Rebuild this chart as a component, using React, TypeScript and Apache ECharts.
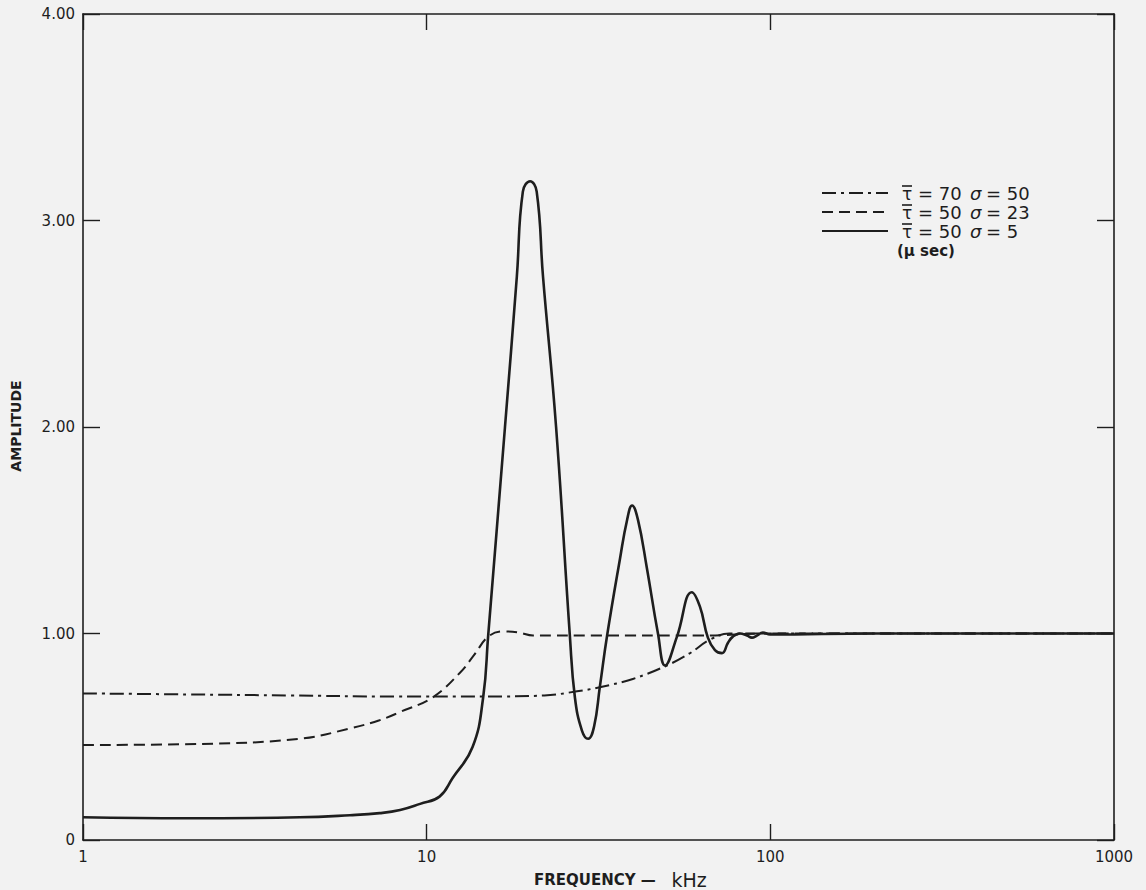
import React, { useEffect, useRef } from "react";
import * as echarts from "echarts";

// σ = 5 (solid)
const freqSolid = [1, 2, 4.27, 5.98, 7.3, 8.37, 9.57, 10.9, 11.9, 13.6, 14.6, 15.1, 16.9, 18.3, 19.05, 20.0, 20.9, 21.8, 23.8, 26.1, 27.0, 28.3, 29.5, 30.7, 31.9, 33.5, 36.5, 38.3, 39.6, 41.2, 43.7, 47.1, 49.4, 53.5, 59.1, 62.4, 65.8, 69.0, 72.3, 75.3, 77.8, 81.6, 85.5, 88.4, 91.4, 95.1, 99.8, 200, 1000];
const ampSolid = [0.11, 0.105, 0.11, 0.12, 0.13, 0.145, 0.175, 0.21, 0.30, 0.45, 0.69, 0.99, 2.0, 2.73, 3.14, 3.19, 3.14, 2.73, 2.0, 0.99, 0.69, 0.53, 0.49, 0.55, 0.74, 0.99, 1.36, 1.55, 1.62, 1.55, 1.32, 1.0, 0.845, 0.985, 1.2, 1.13, 0.98, 0.92, 0.905, 0.955, 0.985, 1.0, 0.99, 0.98, 0.99, 1.005, 0.995, 1.0, 1.0];

// σ = 23 (dashed)
const freqDashed = [1, 2.19, 4.27, 5.98, 7.29, 8.37, 10.4, 12.5, 13.8, 15.1, 16.7, 18.5, 20.4, 31.9, 62, 100, 1000];
const ampDashed = [0.46, 0.465, 0.49, 0.54, 0.58, 0.62, 0.69, 0.81, 0.9, 0.985, 1.01, 1.005, 0.99, 0.99, 0.99, 1.0, 1.0];

// σ = 50 (dash-dot)
const freqDashDot = [1, 2, 4, 8, 15, 22, 27.4, 31.9, 39.8, 50, 58.4, 66.7, 76, 100, 1000];
const ampDashDot = [0.71, 0.705, 0.7, 0.695, 0.695, 0.7, 0.72, 0.74, 0.78, 0.845, 0.905, 0.97, 1.0, 1.0, 1.0];

const yTicks = [0, 1, 2, 3, 4];
const legendRows = [
  { tau: "70", sigma: "50" },
  { tau: "50", sigma: "23" },
  { tau: "50", sigma: "5" },
];

const INK = "#1e1e1e";
const FONT = "DejaVu Sans";

function pairs(xs: number[], ys: number[]) {
  return xs.map((x, i) => [x, ys[i]]);
}

export default function App() {
  const ref = useRef<HTMLDivElement>(null);
  useEffect(() => {
    if (!ref.current) return;
    const chart = echarts.init(ref.current, undefined, { renderer: "svg" });
    const xAxisBase = {
      type: "log" as const,
      logBase: 10,
      min: 1,
      max: 1000,
      axisLine: { show: true, onZero: false, lineStyle: { color: INK, width: 1.6 } },
      axisTick: { show: true, inside: true, length: 16, lineStyle: { color: INK, width: 1.4 } },
      splitLine: { show: false },
      minorTick: { show: false },
    };
    const yAxisBase = {
      type: "value" as const,
      min: yTicks[0],
      max: yTicks[yTicks.length - 1],
      interval: 1,
      axisLine: { show: true, onZero: false, lineStyle: { color: INK, width: 1.6 } },
      axisTick: { show: true, inside: true, length: 17, lineStyle: { color: INK, width: 1.4 } },
      splitLine: { show: false },
    };
    const legendGraphics: any[] = [];
    const rowY = [193, 212, 231];
    const dashes = [[14, 5, 3, 5], [11, 6], null];
    rowY.forEach((y, i) => {
      legendGraphics.push({
        type: "line",
        shape: { x1: 822, y1: y, x2: 888, y2: y },
        style: { stroke: INK, lineWidth: 2.2, lineDash: dashes[i] || undefined },
      });
      legendGraphics.push({
        type: "text",
        x: 902, y: y + 1,
        style: { text: "τ", font: `17px "${FONT}"`, fill: INK, verticalAlign: "middle" },
      });
      legendGraphics.push({
        type: "line",
        shape: { x1: 902, y1: y - 7, x2: 912, y2: y - 7 },
        style: { stroke: INK, lineWidth: 1.6 },
      });
      legendGraphics.push({
        type: "text",
        x: 918, y: y,
        style: { text: "= " + legendRows[i].tau, font: `18px "${FONT}"`, fill: INK, verticalAlign: "middle" },
      });
      legendGraphics.push({
        type: "text",
        x: 970, y: y,
        style: { text: "σ", font: `italic 18px "${FONT}"`, fill: INK, verticalAlign: "middle" },
      });
      legendGraphics.push({
        type: "text",
        x: 986, y: y,
        style: { text: "= " + legendRows[i].sigma, font: `18px "${FONT}"`, fill: INK, verticalAlign: "middle" },
      });
    });
    legendGraphics.push({
      type: "text",
      x: 897, y: 251,
      style: { text: "(μ sec)", font: `bold 15px "${FONT}"`, fill: INK, verticalAlign: "middle" },
    });

    chart.setOption({
      animation: false,
      backgroundColor: "#f2f2f2",
      grid: { left: 83, right: 32, top: 14, bottom: 50, containLabel: false },
      xAxis: [
        {
          ...xAxisBase,
          position: "bottom",
          axisLabel: {
            show: true, color: INK, fontFamily: FONT, fontSize: 15, margin: 9,
            formatter: (v: number) => String(Math.round(v)),
          },
        },
        {
          ...xAxisBase,
          position: "top",
          axisLabel: { show: false },
        },
      ],
      yAxis: [
        {
          ...yAxisBase,
          position: "left",
          axisLabel: {
            show: true, color: INK, fontFamily: FONT, fontSize: 15, margin: 8,
            formatter: (v: number) => (v === 0 ? "0" : v.toFixed(2)),
          },
        },
        {
          ...yAxisBase,
          position: "right",
          axisLabel: { show: false },
        },
      ],
      series: [
        {
          name: "τ = 70 σ = 50",
          type: "line",
          data: pairs(freqDashDot, ampDashDot),
          showSymbol: false,
          smooth: 0.4,
          lineStyle: { color: INK, width: 2, type: [14, 5, 3, 5] },
        },
        {
          name: "τ = 50 σ = 23",
          type: "line",
          data: pairs(freqDashed, ampDashed),
          showSymbol: false,
          smooth: 0.4,
          lineStyle: { color: INK, width: 2, type: [11, 6] },
        },
        {
          name: "τ = 50 σ = 5",
          type: "line",
          data: pairs(freqSolid, ampSolid),
          showSymbol: false,
          smooth: 0.45,
          lineStyle: { color: INK, width: 2.6 },
        },
      ],
      graphic: [
        ...legendGraphics,
        {
          type: "text",
          x: 16, y: 426,
          rotation: Math.PI / 2,
          style: { text: "AMPLITUDE", font: `bold 14px "${FONT}"`, fill: INK, align: "center", verticalAlign: "middle" },
        },
        {
          type: "text",
          x: 534, y: 880,
          style: {
            text: "{a|FREQUENCY —   }{b|kHz}",
            rich: {
              a: { font: `bold 15px "${FONT}"`, fill: INK },
              b: { font: `19px "${FONT}"`, fill: INK },
            },
            fill: INK,
            verticalAlign: "middle",
          },
        },
      ],
    });
    return () => chart.dispose();
  }, []);
  return (
    <div
      ref={ref}
      style={{ position: "absolute", left: 0, top: 0, width: 1146, height: 890, background: "#f2f2f2" }}
    />
  );
}
